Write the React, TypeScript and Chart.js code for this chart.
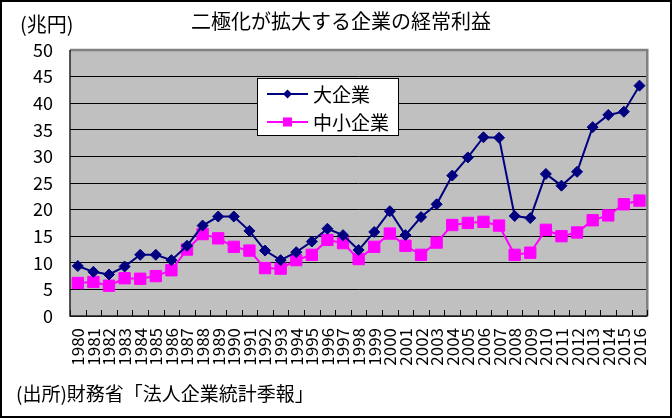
import React, { useEffect, useRef } from "react";
import { Chart, registerables } from "chart.js";

Chart.register(...registerables);

const years: string[] = [
  "1980","1981","1982","1983","1984","1985","1986","1987","1988","1989",
  "1990","1991","1992","1993","1994","1995","1996","1997","1998","1999",
  "2000","2001","2002","2003","2004","2005","2006","2007","2008","2009",
  "2010","2011","2012","2013","2014","2015","2016",
];

const largeFirms: number[] = [
  9.4, 8.3, 7.8, 9.3, 11.5, 11.5, 10.5, 13.2, 17.0, 18.7,
  18.7, 16.0, 12.3, 10.5, 12.0, 14.0, 16.4, 15.2, 12.4, 15.8,
  19.7, 15.2, 18.6, 21.0, 26.4, 29.8, 33.6, 33.5, 18.8, 18.4,
  26.7, 24.5, 27.1, 35.5, 37.8, 38.4, 43.3,
];

const smallFirms: number[] = [
  6.2, 6.4, 5.7, 7.1, 7.0, 7.5, 8.6, 12.5, 15.4, 14.6,
  13.0, 12.3, 9.0, 8.9, 10.5, 11.5, 14.3, 13.7, 10.7, 13.0,
  15.5, 13.2, 11.5, 13.8, 17.1, 17.5, 17.7, 17.0, 11.5, 11.9,
  16.2, 15.0, 15.7, 18.0, 18.9, 21.0, 21.7,
];

const seriesNames: string[] = ["大企業", "中小企業"];
const titleText = "二極化が拡大する企業の経常利益";
const unitText = "(兆円)";
const sourceText = "(出所)財務省「法人企業統計季報」";

const FONT = "'Noto Sans CJK JP', 'Noto Sans', sans-serif";
const NAVY = "#000080";
const MAGENTA = "#FF00FF";

const framePlugin = {
  id: "framePlugin",
  beforeDraw(chart: any) {
    const { ctx, chartArea: a } = chart;
    ctx.save();
    ctx.fillStyle = "#C0C0C0";
    ctx.fillRect(a.left, a.top, a.right - a.left, a.bottom - a.top);
    ctx.restore();
  },
  beforeDatasetsDraw(chart: any) {
    const { ctx, chartArea: a } = chart;
    const xs = chart.scales.x;
    const n = chart.data.labels.length;
    ctx.save();
    // gray top/right border
    ctx.strokeStyle = "#808080";
    ctx.lineWidth = 2.5;
    ctx.beginPath();
    ctx.moveTo(a.left, a.top);
    ctx.lineTo(a.right, a.top);
    ctx.lineTo(a.right, a.bottom);
    ctx.stroke();
    // tick marks inside, at category boundaries
    const p0 = xs.getPixelForValue(0);
    const p1 = xs.getPixelForValue(1);
    const half = (p1 - p0) / 2;
    ctx.strokeStyle = "#000";
    ctx.lineWidth = 1;
    ctx.beginPath();
    for (let i = 0; i <= n; i++) {
      const x = Math.round((i < n ? xs.getPixelForValue(i) - half : xs.getPixelForValue(n - 1) + half)) + 0.5;
      ctx.moveTo(x, a.bottom);
      ctx.lineTo(x, a.bottom - 6);
    }
    ctx.stroke();
    // axes
    ctx.strokeStyle = "#202020";
    ctx.lineWidth = 1.5;
    ctx.beginPath();
    ctx.moveTo(a.left, a.top);
    ctx.lineTo(a.left, a.bottom);
    ctx.lineTo(a.right, a.bottom);
    ctx.stroke();
    ctx.restore();
  },
  afterDraw(chart: any) {
    const { ctx } = chart;
    ctx.save();
    // legend box
    const bx = 257, by = 78, bw = 141, bh = 57;
    ctx.fillStyle = "#fff";
    ctx.fillRect(bx, by, bw, bh);
    ctx.strokeStyle = "#000";
    ctx.lineWidth = 1;
    ctx.strokeRect(bx + 0.5, by + 0.5, bw, bh);
    const rows = [94, 122];
    chart.data.datasets.forEach((ds: any, i: number) => {
      const y = rows[i];
      ctx.strokeStyle = ds.borderColor;
      ctx.lineWidth = 2;
      ctx.beginPath();
      ctx.moveTo(267, y);
      ctx.lineTo(308, y);
      ctx.stroke();
      ctx.fillStyle = ds.borderColor;
      const cx = 287.5;
      if (ds.pointStyle === "rectRot") {
        ctx.beginPath();
        ctx.moveTo(cx, y - 4.5);
        ctx.lineTo(cx + 4.5, y);
        ctx.lineTo(cx, y + 4.5);
        ctx.lineTo(cx - 4.5, y);
        ctx.closePath();
        ctx.fill();
      } else {
        ctx.fillRect(cx - 4.5, y - 4.5, 9, 9);
      }
      ctx.fillStyle = "#000";
      ctx.font = `19px ${FONT}`;
      ctx.textBaseline = "middle";
      ctx.textAlign = "left";
      ctx.fillText(ds.label, 313, y + 1);
    });
    // outer border
    ctx.strokeStyle = "#000";
    ctx.lineWidth = 2;
    ctx.strokeRect(1, 1, chart.width - 2, chart.height - 2);
    ctx.restore();
  },
};

export default function App() {
  const ref = useRef<HTMLCanvasElement | null>(null);

  useEffect(() => {
    document.body.style.margin = "0";
    const canvas = ref.current;
    if (!canvas) return;
    const chart = new Chart(canvas, {
      type: "line",
      data: {
        labels: years,
        datasets: [
          {
            label: seriesNames[0],
            data: largeFirms,
            borderColor: NAVY,
            backgroundColor: NAVY,
            borderWidth: 2,
            pointStyle: "rectRot",
            pointRadius: 5.5,
            pointBorderWidth: 1,
            pointBackgroundColor: NAVY,
            pointBorderColor: NAVY,
            tension: 0,
          },
          {
            label: seriesNames[1],
            data: smallFirms,
            borderColor: MAGENTA,
            backgroundColor: MAGENTA,
            borderWidth: 2,
            pointStyle: "rect",
            pointRadius: 8,
            pointBorderWidth: 1,
            pointBackgroundColor: MAGENTA,
            pointBorderColor: MAGENTA,
            tension: 0,
          },
        ],
      },
      options: {
        responsive: false,
        devicePixelRatio: 1,
        animation: false,
        layout: { padding: { left: 0, top: 50, right: 5, bottom: 2 } },
        plugins: {
          legend: { display: false },
          title: { display: false },
          tooltip: { enabled: false },
        },
        scales: {
          x: {
            type: "category",
            offset: true,
            grid: { display: false, drawOnChartArea: false, drawTicks: false },
            border: { display: false },
            ticks: {
              autoSkip: false,
              minRotation: 90,
              maxRotation: 90,
              padding: 12,
              color: "#000",
              font: { family: FONT, size: 17 },
            },
            afterFit(scale: any) {
              scale.height = 100;
            },
          },
          y: {
            min: 0,
            max: 50,
            grid: { color: "#000", lineWidth: 1, drawTicks: false },
            border: { display: false },
            ticks: {
              stepSize: 5,
              padding: 17,
              color: "#000",
              font: { family: FONT, size: 18 },
            },
            afterFit(scale: any) {
              scale.width = 70;
            },
          },
        },
      },
      plugins: [framePlugin],
    } as any);
    return () => chart.destroy();
  }, []);

  const textBase: React.CSSProperties = {
    position: "absolute",
    fontFamily: FONT,
    color: "#000",
    whiteSpace: "nowrap",
    margin: 0,
  };

  return (
    <div style={{ position: "absolute", left: 0, top: 0, width: 672, height: 418, background: "#fff" }}>
      <canvas ref={ref} width={672} height={418} style={{ display: "block", width: 672, height: 418 }} />
      <div style={{ ...textBase, left: 20, top: 12, fontSize: 20, lineHeight: "24px" }}>{unitText}</div>
      <div style={{ ...textBase, left: 191, top: 9, fontSize: 20, lineHeight: "24px" }}>{titleText}</div>
      <div style={{ ...textBase, left: 16, top: 381, fontSize: 19, lineHeight: "24px" }}>{sourceText}</div>
    </div>
  );
}
